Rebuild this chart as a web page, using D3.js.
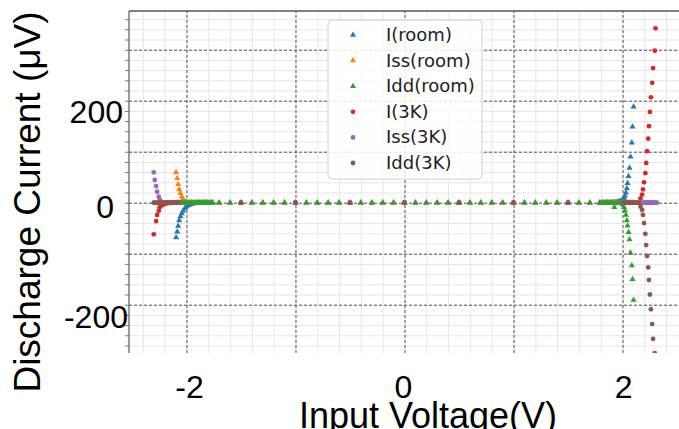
<!DOCTYPE html>
<html>
<head>
<meta charset="utf-8">
<script src="https://cdn.jsdelivr.net/npm/d3@7.9.0/dist/d3.min.js"></script>
<style>
  body { margin: 0; background: #fff; }
  svg { display: block; }
</style>
</head>
<body>
<svg id="chart" width="679" height="429"></svg>
<script>
// voltages (V) where all series of one temperature sit on the zero line
const roomMidV = [-1.7, -1.6, -1.5, -1.4, -1.3, -1.2, -1.1, -1.0, -0.9, -0.8, -0.7, -0.6,
    -0.5, -0.4, -0.3, -0.2, -0.1, 0, 0.1, 0.2, 0.3, 0.4, 0.5, 0.6, 0.7, 0.8, 0.9, 1.0,
    1.1, 1.2, 1.3, 1.4, 1.5, 1.6, 1.7];
const coldMidV = [-1.5, -1.0, -0.5, 0, 0.5, 1.0, 1.5];

// room temperature sweep around the two edges (V), currents in uV
const roomEdgeV = [-2.095, -2.085, -2.076, -2.067, -2.055, -2.043, -2.030, -2.015, -2.000,
    -1.985, -1.970, -1.955, -1.940, -1.925, -1.910, -1.895, -1.880, -1.865, -1.850, -1.835,
    -1.820, -1.805, -1.790, -1.775, -1.760,
    1.790, 1.805, 1.820, 1.835, 1.850, 1.865, 1.880, 1.895, 1.910, 1.925, 1.940, 1.955,
    1.970, 1.985, 2.000, 2.013, 2.022, 2.031, 2.040, 2.046, 2.055, 2.064, 2.073, 2.085,
    2.092, 2.101];
const iRoom = [-68, -57, -45.7, -35, -27, -21, -15.7, -11, -7.8, -5.5, -3.8, -2.6, -1.8, -1.2,
    -0.8, -0.5, -0.3, -0.2, -0.1, 0, 0, 0, 0, 0, 0,
    0, 0, 0, 0, 0.1, 0.2, 0.3, 0.4, 0.6, 0.9, 1.3, 1.9, 2.8, 4, 6, 8.6, 13, 19.6, 28, 38,
    52, 68, 90, 117.6, 149, 188];
const issRoom = [59.6, 47.8, 36, 26, 18.4, 11.8, 6.6, 3.3, 1.6, 0.8, 0.4, 0.2, 0.1, 0, 0, 0,
    0, 0, 0, 0, 0, 0, 0, 0, 0,
    0, 0, 0, 0, 0, 0, 0, 0, 0, 0, 0, 0, 0, 0, 0, 0, 0, 0, 0, 0, 0, 0, 0, 0, 0, 0];
const iddRoom = [0, 0, 0, 0, 0, 0, 0, 0, 0, 0, 0, 0, 0, 0, 0, 0, 0, 0, 0, 0, 0, 0, 0, 0, 0,
    0, 0, 0, 0, 0, 0, 0, 0, 0, -9, 0, 0, 0, -1, -4, -9, -16, -24, -35, -45, -58, -72, -98,
    -123, -150, -191];

// 3K sweep around the two edges
const coldEdgeV = [-2.300, -2.291, -2.278, -2.269, -2.254, -2.245, -2.235, -2.223, -2.210,
    -2.195, -2.180, -2.165, -2.150, -2.135, -2.120, -2.105, -2.090, -2.075,
    2.010, 2.030, 2.050, 2.070, 2.090, 2.110, 2.130, 2.150, 2.165, 2.179, 2.187, 2.197,
    2.209, 2.217, 2.225, 2.236, 2.242, 2.251, 2.260, 2.272, 2.280, 2.296, 2.303, 2.315];
const iCold = [-62, null, -36, -24, -16, -9, -6, -4.5, -3, -2, -1.2, -0.7, -0.4, -0.2, 0, 0, 0, 0,
    0, 0, 0, 0, 0, 0, 0, 0, 8.6, 16, 26, 40, 58, 78, 101, 125.5, 150, 178, 206.7, 235,
    264, 298, 342, null];
const issCold = [59.6, 44.5, 32.7, 21.6, 11.8, 5.3, 2.5, 1, 0.4, 0, 0, 0, 0, 0, 0, 0, 0, 0,
    0, 0, 0, 0, 0, 0, 0, 0, 0, 0, 0, 0, 0, 0, 0, 0, 0, 0, 0, 0, 0, 0, 0, 0];
const iddCold = [0, 0, 0, 0, 0, 0, 0, 0, 0, 0, 0, 0, 0, 0, 0, 0, 0, 0,
    0, 0, 0, 0, 0, 0, 0, 0, -7.8, -14, -24, -40, -61, -83, -104.5, -127, -151.6, -180,
    -209, -238, -267, -295, -340, null];

const seriesNames = ['I(room)', 'Iss(room)', 'Idd(room)', 'I(3K)', 'Iss(3K)', 'Idd(3K)'];
const colors = ['#1f77b4', '#ff7f0e', '#2ca02c', '#d62728', '#9467bd', '#8c564b'];

const xTicks = [-2, 0, 2];
const yTicks = [-200, 0, 200];
const xMajor = [-2, -1, 0, 1, 2];
const yMajor = [-200, -100, 0, 100, 200, 300];

const plot = { left: 129, right: 680, top: 11, bottom: 353 };

const x = d3.scaleLinear().domain([-2.527, 2.527]).range([plot.left, plot.right]);
const y = d3.scaleLinear().domain([-294.7, 375.9]).range([plot.bottom, plot.top]);

const svg = d3.select('#chart');

svg.append('defs').append('clipPath').attr('id', 'clip')
    .append('rect')
    .attr('x', plot.left).attr('y', plot.top)
    .attr('width', plot.right - plot.left).attr('height', plot.bottom - plot.top);

// minor grid
const xMinor = d3.range(-12, 13).map((k) => k * 0.2);
const yMinor = d3.range(-14, 19).map((k) => k * 20);

svg.append('g')
    .attr('transform', `translate(0, ${plot.bottom})`)
    .call(d3.axisBottom(x).tickValues(xMinor).tickFormat('').tickSize(-(plot.bottom - plot.top)))
    .call((g) => g.select('.domain').remove())
    .call((g) => g.selectAll('line').attr('stroke', '#e6e6e6').attr('stroke-width', 1));

svg.append('g')
    .attr('transform', `translate(${plot.left}, 0)`)
    .call(d3.axisLeft(y).tickValues(yMinor).tickFormat('').tickSize(-(plot.right - plot.left)))
    .call((g) => g.select('.domain').remove())
    .call((g) => g.selectAll('line').attr('stroke', '#e6e6e6').attr('stroke-width', 1));

// major dashed grid
svg.append('g')
    .attr('transform', `translate(0, ${plot.bottom})`)
    .call(d3.axisBottom(x).tickValues(xMajor).tickFormat('').tickSize(-(plot.bottom - plot.top)))
    .call((g) => g.select('.domain').remove())
    .call((g) => g.selectAll('line').attr('stroke', '#555').attr('stroke-dasharray', '3,2'));

svg.append('g')
    .attr('transform', `translate(${plot.left}, 0)`)
    .call(d3.axisLeft(y).tickValues(yMajor).tickFormat('').tickSize(-(plot.right - plot.left)))
    .call((g) => g.select('.domain').remove())
    .call((g) => g.selectAll('line').attr('stroke', '#555').attr('stroke-dasharray', '3,2'));

// left axis: small outward ticks
svg.append('g')
    .attr('transform', `translate(${plot.left}, 0)`)
    .call(d3.axisLeft(y).tickValues(yMinor).tickFormat('').tickSize(4))
    .call((g) => g.select('.domain').remove())
    .call((g) => g.selectAll('line').attr('stroke', '#777'));

// spines
svg.append('line')
    .attr('x1', plot.left).attr('x2', plot.left)
    .attr('y1', plot.top).attr('y2', plot.bottom)
    .attr('stroke', '#666').attr('stroke-width', 1.3);
svg.append('line')
    .attr('x1', plot.left).attr('x2', plot.right)
    .attr('y1', plot.top).attr('y2', plot.top)
    .attr('stroke', '#555').attr('stroke-width', 1.3);

// points
const tri = d3.symbol().type(d3.symbolTriangle).size(16);

function pointsOf(edgeV, values, midV) {
    const pts = midV.map((v) => [v, 0]);
    edgeV.forEach((v, i) => {
        if (values[i] !== null) pts.push([v, values[i]]);
    });
    return pts;
}

const series = [
    pointsOf(roomEdgeV, iRoom, roomMidV),
    pointsOf(roomEdgeV, issRoom, roomMidV),
    pointsOf(roomEdgeV, iddRoom, roomMidV),
    pointsOf(coldEdgeV, iCold, coldMidV),
    pointsOf(coldEdgeV, issCold, coldMidV),
    pointsOf(coldEdgeV, iddCold, coldMidV),
];

const dots = svg.append('g').attr('clip-path', 'url(#clip)');

series.forEach((pts, k) => {
    const g = dots.append('g').attr('fill', colors[k]);
    if (k < 3) {
        g.selectAll('path')
            .data(pts)
            .join('path')
            .attr('d', tri)
            .attr('transform', (d) => `translate(${x(d[0])}, ${y(d[1])})`);
    } else {
        g.selectAll('circle')
            .data(pts)
            .join('circle')
            .attr('cx', (d) => x(d[0]))
            .attr('cy', (d) => y(d[1]))
            .attr('r', 2.4);
    }
});

// tick labels
const labelFont = '"Liberation Sans", Arial, sans-serif';
const xShift = { '-2': 3, '0': -1, '2': 1 };
svg.append('g')
    .selectAll('text')
    .data(xTicks)
    .join('text')
    .attr('x', (d) => x(d) + xShift[d])
    .attr('y', 398)
    .attr('text-anchor', 'middle')
    .style('font-family', labelFont)
    .style('font-size', '32px')
    .text((d) => d);

const yShift = { '200': [-6, 22], '0': [-15, 15], '-200': [-1, 23] };
svg.append('g')
    .selectAll('text')
    .data(yTicks)
    .join('text')
    .attr('x', (d) => plot.left + yShift[d][0])
    .attr('y', (d) => y(d) + yShift[d][1])
    .attr('text-anchor', 'end')
    .style('font-family', labelFont)
    .style('font-size', '32px')
    .text((d) => d);

// axis titles
svg.append('text')
    .attr('x', 428)
    .attr('y', 428)
    .attr('text-anchor', 'middle')
    .style('font-family', labelFont)
    .style('font-size', '36px')
    .text('Input Voltage(V)');

svg.append('text')
    .attr('transform', 'translate(40, 202) rotate(-90)')
    .attr('text-anchor', 'middle')
    .style('font-family', labelFont)
    .style('font-size', '37px')
    .text('Discharge Current (μV)');

// legend
const legend = svg.append('g');
legend.append('rect')
    .attr('x', 328).attr('y', 20)
    .attr('width', 154).attr('height', 159)
    .attr('rx', 4)
    .attr('fill', '#fff').attr('fill-opacity', 0.85)
    .attr('stroke', '#d0d0d0');

const rows = legend.selectAll('g.row')
    .data(seriesNames)
    .join('g')
    .attr('class', 'row')
    .attr('transform', (d, i) => `translate(0, ${35 + i * 25.6})`);

rows.each(function (d, i) {
    const row = d3.select(this);
    if (i < 3) {
        row.append('path').attr('d', tri).attr('transform', 'translate(353, 0)').attr('fill', colors[i]);
    } else {
        row.append('circle').attr('cx', 353).attr('cy', 0).attr('r', 2.4).attr('fill', colors[i]);
    }
    row.append('text')
        .attr('x', 386)
        .attr('y', 6)
        .style('font-family', '"DejaVu Sans", sans-serif')
        .style('font-size', '18px')
        .attr('fill', '#222')
        .text(d);
});
</script>
</body>
</html>
